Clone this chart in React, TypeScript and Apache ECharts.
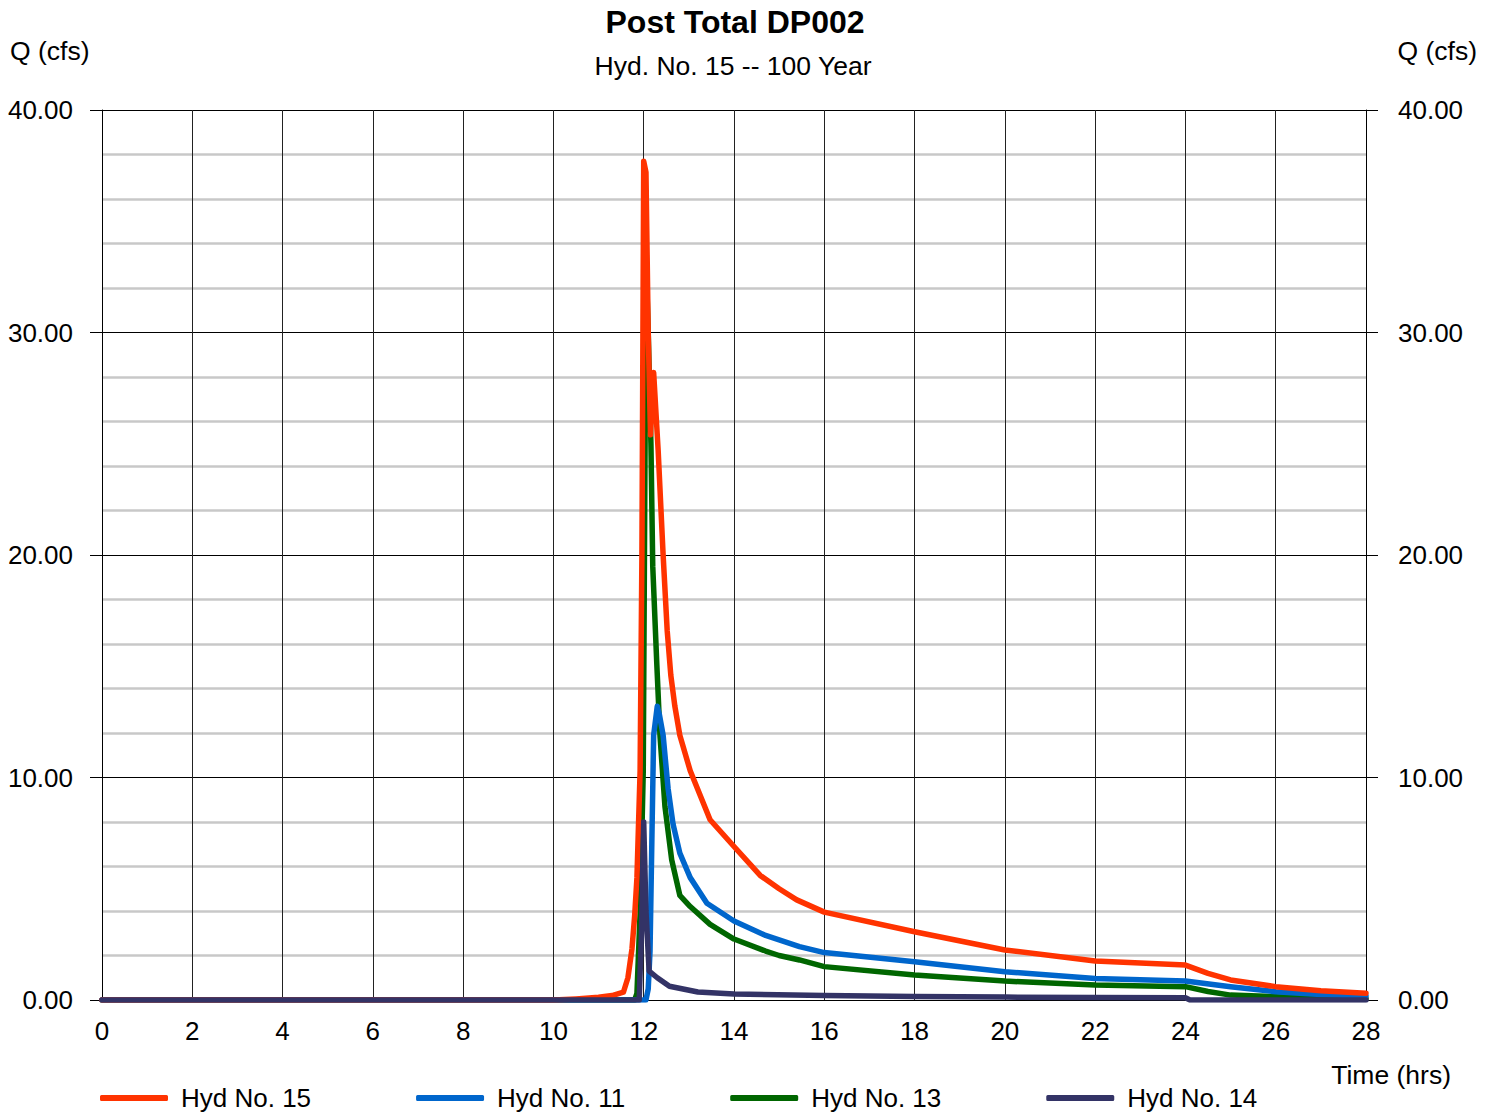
import React, { useEffect, useRef } from "react";
import * as echarts from "echarts";

const FONT = "'Liberation Sans', Arial, sans-serif";

const seriesNames = ["Hyd No. 15", "Hyd No. 11", "Hyd No. 13", "Hyd No. 14"];
const seriesColors = ["#FF3300", "#0066CC", "#006600", "#333366"];

const hyd15: [number, number][] = [
  [0, 0], [10, 0], [10.5, 0.05], [11, 0.12], [11.3, 0.2], [11.55, 0.35], [11.65, 1.0],
  [11.74, 2.3], [11.8, 3.8], [11.85, 5.5], [11.92, 10.3], [11.96, 20], [12.0, 37.7],
  [12.05, 37.2], [12.1, 30], [12.15, 25.4], [12.22, 28.2], [12.32, 24.7], [12.43, 20],
  [12.52, 16.6], [12.6, 14.6], [12.69, 13.2], [12.8, 11.9], [13.03, 10.3], [13.47, 8.1], [14, 6.9],
  [14.58, 5.6], [15, 5.0], [15.39, 4.5], [16, 3.95], [18, 3.07], [20, 2.25], [22, 1.75],
  [24, 1.57], [24.5, 1.2], [25, 0.9], [26, 0.6], [27, 0.42], [28, 0.3],
];

const hyd11: [number, number][] = [
  [0, 0], [12.05, 0], [12.1, 0.5], [12.14, 2.2], [12.18, 7.1], [12.22, 11.9], [12.3, 13.2],
  [12.35, 12.8], [12.43, 11.9], [12.54, 9.5], [12.65, 7.9], [12.8, 6.6], [13.03, 5.5],
  [13.4, 4.35], [14, 3.55], [14.7, 2.9], [15, 2.7], [15.45, 2.4], [16, 2.13], [18, 1.72],
  [20, 1.27], [22, 0.97], [24, 0.85], [25, 0.6], [26, 0.37], [27, 0.25], [28, 0.18],
];

const hyd13: [number, number][] = [
  [0, 0], [11.8, 0], [11.85, 0.3], [11.92, 3.9], [11.99, 10.3], [12.03, 25], [12.05, 33.5],
  [12.1, 30], [12.16, 25], [12.2, 19.5], [12.29, 15.1], [12.36, 11.9], [12.47, 8.7],
  [12.62, 6.3], [12.8, 4.7], [13.03, 4.2], [13.47, 3.4], [14, 2.74], [14.7, 2.2], [15, 2.0],
  [15.45, 1.8], [16, 1.5], [18, 1.12], [20, 0.85], [22, 0.67], [24, 0.6], [24.5, 0.38],
  [25, 0.22], [26, 0.15], [27, 0.1], [28, 0.07],
];

const hyd14: [number, number][] = [
  [0, 0], [11.9, 0], [11.95, 3], [12.0, 8.0], [12.05, 4], [12.12, 1.3], [12.3, 1.0],
  [12.57, 0.62], [13.2, 0.36], [14, 0.27], [16, 0.2], [18, 0.16], [20, 0.13], [22, 0.11],
  [24, 0.1], [24.1, 0], [28, 0],
];

const xMin = 0, xMax = 28, xStep = 2;
const yMin = 0, yMax = 40, yStep = 10;

export default function App() {
  const ref = useRef<HTMLDivElement>(null);
  useEffect(() => {
    if (!ref.current) return;
    const chart = echarts.init(ref.current, null, { renderer: "svg" });
    const lbl = { fontFamily: FONT, fontSize: 26, color: "#000" };
    const mk = (name: string, data: [number, number][], color: string, z: number) => ({
      name,
      type: "line",
      data,
      showSymbol: false,
      symbol: "none",
      z,
      lineStyle: { color, width: 5.5, cap: "round", join: "round" },
      itemStyle: { color },
    });
    const txt = (text: string, x: number, y: number, align: string, size: number, bold = false) => ({
      type: "text",
      x,
      y,
      style: {
        text,
        textAlign: align,
        textVerticalAlign: "middle",
        font: `${bold ? "bold " : ""}${size}px ${FONT}`,
        fill: "#000",
      },
    });
    chart.setOption({
      animation: false,
      backgroundColor: "#fff",
      graphic: [
        txt("Post Total DP002", 735, 22, "center", 32, true),
        txt("Hyd. No. 15 -- 100 Year", 733, 66, "center", 26.5),
        txt("Q (cfs)", 10, 51, "left", 26.5),
        txt("Q (cfs)", 1477, 51, "right", 26.5),
        txt("Time (hrs)", 1451, 1075, "right", 26.5),
      ],
      grid: { left: 102, right: 128, top: 110, bottom: 112, containLabel: false },
      legend: {
        data: seriesNames,
        left: 95,
        top: 1080,
        itemWidth: 68,
        itemHeight: 6,
        itemGap: 105,
        icon: "roundRect",
        textStyle: { fontFamily: FONT, fontSize: 26, color: "#000", padding: [0, 0, 0, 8] },
      },
      xAxis: {
        type: "value",
        min: xMin,
        max: xMax,
        interval: xStep,
        axisLine: { show: true, lineStyle: { color: "#000", width: 1 } },
        axisTick: { show: false },
        axisLabel: { ...lbl, margin: 18 },
        splitLine: { show: true, lineStyle: { color: "#222", width: 1 } },
      },
      yAxis: [
        {
          type: "value",
          position: "left",
          min: yMin,
          max: yMax,
          interval: yStep,
          axisLine: { show: true, onZero: false, lineStyle: { color: "#000", width: 1 } },
          axisTick: { show: true, length: 12, lineStyle: { color: "#000" } },
          axisLabel: { ...lbl, margin: 29, formatter: (v: number) => v.toFixed(2) },
          splitLine: { show: true, lineStyle: { color: "#000", width: 1 } },
          minorTick: { show: false, splitNumber: 5 },
          minorSplitLine: { show: true, lineStyle: { color: "#c8c8c8", width: 2.5 } },
        },
        {
          type: "value",
          position: "right",
          min: yMin,
          max: yMax,
          interval: yStep,
          axisLine: { show: true, onZero: false, lineStyle: { color: "#000", width: 1 } },
          axisTick: { show: true, length: 12, lineStyle: { color: "#000" } },
          axisLabel: { ...lbl, margin: 32, formatter: (v: number) => v.toFixed(2) },
          splitLine: { show: false },
        },
      ],
      series: [
        mk(seriesNames[2], hyd13, seriesColors[2], 2),
        mk(seriesNames[1], hyd11, seriesColors[1], 3),
        mk(seriesNames[0], hyd15, seriesColors[0], 4),
        mk(seriesNames[3], hyd14, seriesColors[3], 5),
      ],
    });
    return () => chart.dispose();
  }, []);
  return <div ref={ref} style={{ position: "fixed", left: 0, top: 0, width: 1494, height: 1112 }} />;
}
